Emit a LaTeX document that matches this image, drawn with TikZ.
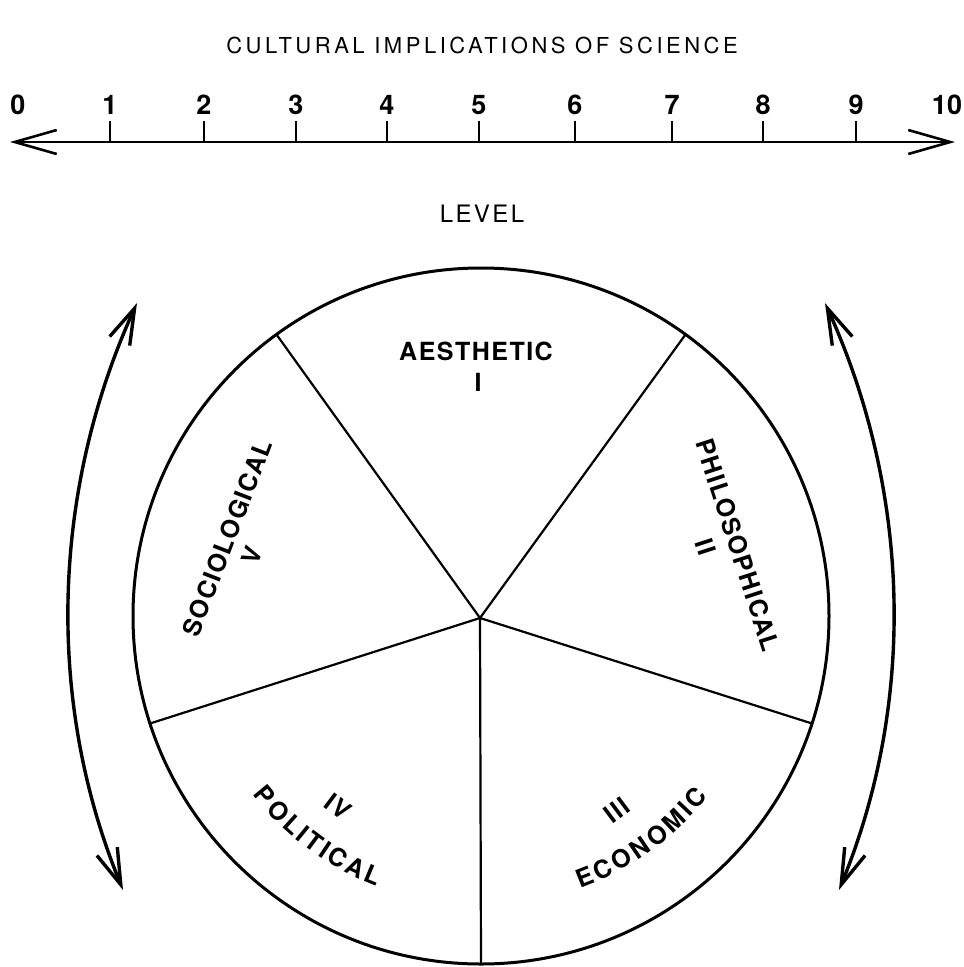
\documentclass[tikz,border=0pt]{standalone}
\usepackage{fontspec}
\setmainfont{TeX Gyre Heros}
\usetikzlibrary{arrows.meta}
\newcommand\lblfont{\fontsize{25}{31}\selectfont\bfseries\addfontfeature{LetterSpace=6}}
\begin{document}
\begin{tikzpicture}[x=1pt,y=-1pt,
  barb/.tip={Straight Barb[length=42pt,width=24pt]},
  sbarb/.tip={Straight Barb[length=36pt,width=22pt]},
  lbl/.style={font=\lblfont, align=center, inner sep=0pt},
  letter/.style={font=\fontsize{25}{31}\selectfont\bfseries, inner sep=0pt},
  num/.style={font=\fontsize{27}{30}\selectfont\bfseries, inner sep=0pt},
  ttl/.style={font=\fontsize{22}{26}\selectfont\addfontfeature{LetterSpace=16}, inner sep=0pt},
  scaleline/.style={line width=2.6pt, barb-barb},
  tick/.style={line width=2.6pt},
  rim/.style={line width=3pt},
  spoke/.style={line width=2.2pt},
  swing/.style={line width=3.4pt, sbarb-sbarb}
]
\useasboundingbox (0,0) rectangle (964,967);

% title
\node[ttl] (title) at (482,45) {CULTURAL IMPLICATIONS OF SCIENCE};

% scale
\coordinate (sL) at (10,142);
\coordinate (sR) at (955,142);
\draw[scaleline] (sL) -- (sR);
\foreach \i/\x in {1/110,2/204,3/296,4/387,5/479,6/575,7/672,8/763,9/856}{
  \coordinate (tb\i) at (\x,142);
  \coordinate (tt\i) at (\x,121);
  \draw[tick] (tb\i) -- (tt\i);
}
\foreach \i/\x in {0/18,1/110,2/204,3/296,4/387,5/479,6/575,7/672,8/763,9/856,10/947}{
  \node[num] (n\i) at (\x,105) {\i};
}

\node[ttl, font=\fontsize{24}{28}\selectfont\addfontfeature{LetterSpace=10}] (level) at (482,214) {LEVEL};

% wheel
\coordinate (ctr) at (481,616);
\coordinate (hub) at (480,618);
\draw[rim] (ctr) circle[radius=348pt];
\coordinate (s1) at (685.5,334.5);
\coordinate (s2) at (276.5,334.5);
\coordinate (s3) at (150,723.5);
\coordinate (s4) at (481,964);
\coordinate (s5) at (812,723.5);
\foreach \s in {s1,s2,s3,s4,s5}{\draw[spoke] (hub) -- (\s);}

% sector labels
\node[lbl] (aes) at (476,351) {AESTHETIC};
\node[lbl] (aesn) at (478,382) {I};
\node[lbl, rotate=69] (soc) at (227,538) {SOCIOLOGICAL};
\node[lbl, rotate=69] (socn) at (252,555) {V};
\node[lbl, rotate=-72] (phi) at (738,545) {PHILOSOPHICAL};
\node[lbl, rotate=-72] (phin) at (706,547) {II};
\node[lbl, rotate=-36.8] (iv) at (338,807) {IV};
\node[lbl, rotate=36.8] (iii) at (617,810) {III};

% curved words, letter by letter on an arc round the wheel centre
\foreach \ch/\a [count=\k] in {P/219.70,O/223.90,L/227.95,I/230.73,T/233.5,I/236.29,C/239.35,A/243.53,L/247.45}{
  \node[letter, rotate=\a+90] (pol\k) at ({481+281*cos(\a)},{616-281*sin(\a)}) {\ch};
}
\foreach \ch/\a [count=\k] in {E/291.70,C/295.75,O/300.08,N/304.41,O/308.75,M/313.36,I/316.70,C/319.76}{
  \node[letter, rotate=\a+90] (eco\k) at ({481+281*cos(\a)},{616-281*sin(\a)}) {\ch};
}

% swing arrows
\coordinate (aLt) at (137,303);
\coordinate (aLb) at (123,890);
\draw[swing] (aLt) .. controls (52,490) and (45,700) .. (aLb);
\coordinate (aRt) at (825,303);
\coordinate (aRb) at (839,890);
\draw[swing] (aRt) .. controls (910,490) and (917,700) .. (aRb);
\end{tikzpicture}
\end{document}
